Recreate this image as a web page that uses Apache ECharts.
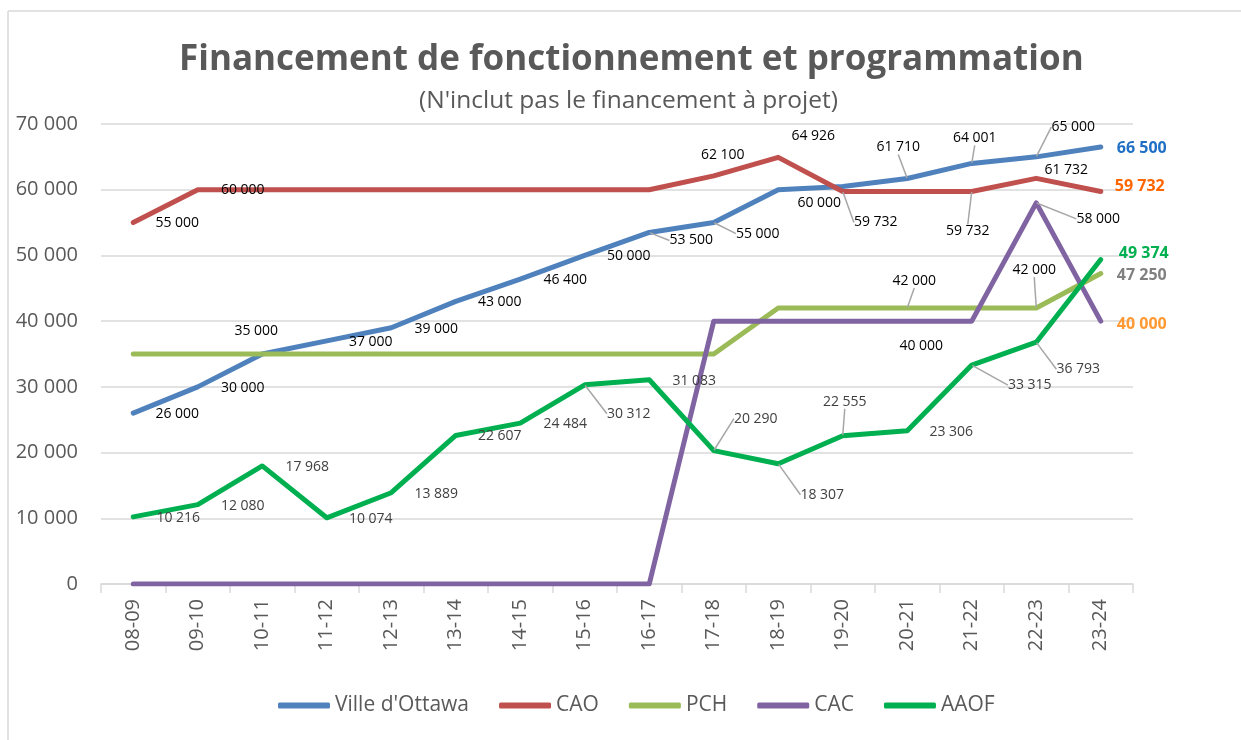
<!DOCTYPE html>
<html>
<head>
<meta charset="utf-8">
<title>Financement de fonctionnement et programmation</title>
<script src="https://cdn.jsdelivr.net/npm/echarts@6/dist/echarts.min.js"></script>
<style>
  html, body { margin: 0; padding: 0; background: #fff; }
  #main { width: 1241px; height: 740px; }
</style>
</head>
<body>
<div id="main"></div>
<script>
// data
var categories = ['08-09','09-10','10-11','11-12','12-13','13-14','14-15','15-16','16-17','17-18','18-19','19-20','20-21','21-22','22-23','23-24'];
var ottawa = [26000,30000,35000,37000,39000,43000,46400,50000,53500,55000,60000,60500,61710,64001,65000,66500];
var cao    = [55000,60000,60000,60000,60000,60000,60000,60000,60000,62100,64926,59732,59732,59732,61732,59732];
var pch    = [35000,35000,35000,35000,35000,35000,35000,35000,35000,35000,42000,42000,42000,42000,42000,47250];
var cac    = [0,0,0,0,0,0,0,0,0,40000,40000,40000,40000,40000,58000,40000];
var aaof   = [10216,12080,17968,10074,13889,22607,24484,30312,31083,20290,18307,22555,23306,33315,36793,49374];
var yTicks = [0,10000,20000,30000,40000,50000,60000,70000];

// label placement: [dx, dy, leaderLine] relative to the point, null = no label
var ottawaLbl = [[44,1],[45,1],[-6,-23],[44,1],[45,1],[44,1],[45,1],[44,1],[42,8,1],[44,11,1],[41,13],null,[-9,-31,1],[3,-25,1],[37,-30,1],[41,1]];
var caoLbl    = [[44,0],[45,0],null,null,null,null,null,null,null,[9,-21],[35,-21],[33,31,1],null,[-4,40,1],[30,-8],[39,-5]];
var pchLbl    = [null,null,null,null,null,null,null,null,null,null,null,null,[7,-27,1],null,[-2,-38,1],[41,2]];
var cacLbl    = [null,null,null,null,null,null,null,null,null,null,null,null,[14,25],null,[62,16,1],[41,3]];
var aaofLbl   = [[45,1],[45,1],[45,1],[44,1],[45,1],[44,1],[45,1],[44,29,1],[45,1],[42,-32,1],[44,31,1],[2,-34,1],[44,1],[58,20,1],[42,27,1],[43,-6]];

var fmt = function (v) { return String(v).replace(/\B(?=(\d{3})+(?!\d))/g, ' '); };
var font = "'Open Sans', 'Noto Sans', sans-serif";
var grey = '#595959';

var chart = echarts.init(document.getElementById('main'));

function makeSeries(name, values, lbl, color, lblColor, endColor) {
    var data = [];
    for (var i = 0; i < values.length; i++) {
        var o = lbl[i];
        var last = i === values.length - 1;
        var item = { value: values[i] };
        item.label = { show: !!o };
        if (last) {
            item.label.color = endColor;
            item.label.fontWeight = 'bold';
            item.label.fontSize = 16;
        }
        if (o && o[2]) {
            item.labelLine = { show: true, lineStyle: { color: '#A6A6A6', width: 1.5 } };
        }
        data.push(item);
    }
    return {
        name: name,
        type: 'line',
        data: data,
        symbol: 'circle',
        symbolSize: 1,
        showSymbol: true,
        showAllSymbol: true,
        itemStyle: { color: color },
        lineStyle: { color: color, width: 5, cap: 'round', join: 'round' },
        label: {
            position: 'inside',
            fontFamily: font,
            fontSize: 14,
            color: lblColor,
            formatter: function (p) { return fmt(p.value); }
        },
        labelLine: { show: false },
        labelLayout: function (p) {
            var o = lbl[p.dataIndex];
            if (!o) return {};
            return { dx: o[0], dy: o[1] };
        },
        emphasis: { disabled: true },
        animation: false
    };
}

chart.setOption({
    backgroundColor: '#fff',
    textStyle: { fontFamily: font },
    title: [{
        text: 'Financement de fonctionnement et programmation',
        left: 174,
        top: 38,
        textStyle: { fontSize: 35, fontWeight: 'bold', color: grey, fontFamily: font }
    }, {
        text: "(N'inclut pas le financement à projet)",
        left: 414,
        top: 84,
        textStyle: { fontSize: 24.5, fontWeight: 'normal', color: grey, fontFamily: font }
    }],
    graphic: [
        { type: 'line', shape: { x1: 8, y1: 11, x2: 1241, y2: 11 }, style: { stroke: '#D9D9D9', lineWidth: 1.5 }, silent: true },
        { type: 'line', shape: { x1: 8, y1: 11, x2: 8, y2: 740 }, style: { stroke: '#D9D9D9', lineWidth: 1.5 }, silent: true }
    ],
    legend: {
        bottom: 19,
        left: 273,
        icon: 'roundRect',
        itemWidth: 52,
        itemHeight: 6,
        itemGap: 30,
        textStyle: { fontSize: 21, color: grey, fontFamily: font },
        data: ["Ville d'Ottawa", 'CAO', 'PCH', 'CAC', 'AAOF']
    },
    grid: { left: 101, right: 108, top: 124, bottom: 156 },
    xAxis: {
        type: 'category',
        data: categories,
        boundaryGap: true,
        axisLine: { lineStyle: { color: '#D9D9D9', width: 1.5 } },
        axisTick: { show: true, length: 9, lineStyle: { color: '#D9D9D9', width: 1.5 } },
        axisLabel: { rotate: 90, margin: 15, fontSize: 20, color: grey, fontFamily: font, interval: 0 }
    },
    yAxis: {
        type: 'value',
        min: yTicks[0],
        max: yTicks[yTicks.length - 1],
        interval: yTicks[1] - yTicks[0],
        axisLine: { show: false },
        axisTick: { show: false },
        splitLine: { lineStyle: { color: '#D9D9D9', width: 1.5 } },
        axisLabel: { margin: 23, fontSize: 20, color: grey, fontFamily: font, formatter: fmt }
    },
    series: [
        makeSeries("Ville d'Ottawa", ottawa, ottawaLbl, '#4F81BD', '#000000', '#1F6FC5'),
        makeSeries('CAO', cao, caoLbl, '#C0504D', '#000000', '#FF6600'),
        makeSeries('PCH', pch, pchLbl, '#9BBB59', '#000000', '#808080'),
        makeSeries('CAC', cac, cacLbl, '#8064A2', '#000000', '#FF9933'),
        makeSeries('AAOF', aaof, aaofLbl, '#00B050', '#404040', '#00B050')
    ]
});
</script>
</body>
</html>
